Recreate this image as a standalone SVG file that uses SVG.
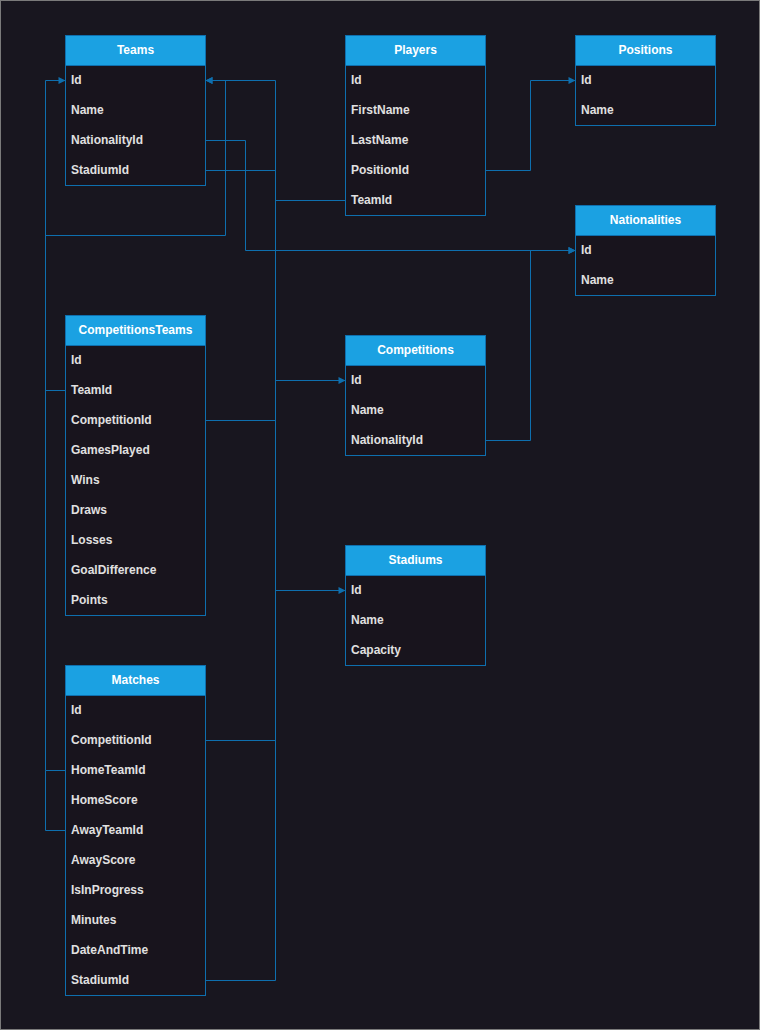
<svg xmlns="http://www.w3.org/2000/svg" width="760" height="1030" viewBox="0 0 760 1030">
<defs>
<style>
.hdr{fill:#1ba1e2;stroke:#0e6fae;stroke-width:1}
.body{fill:#18141d;stroke:#0e6fae;stroke-width:1}
.ht{font-family:"Liberation Sans",Arial,sans-serif;font-size:12px;font-weight:bold;fill:#ffffff;text-anchor:middle}
.ft{font-family:"Liberation Sans",Arial,sans-serif;font-size:12px;font-weight:bold;fill:#e0e0e0}
.edge{fill:none;stroke:#0e6fae;stroke-width:1}
</style>
<marker id="arr" viewBox="0 0 10 10" refX="10" refY="5" markerWidth="8" markerHeight="7" markerUnits="userSpaceOnUse" orient="auto">
<path d="M0,0 L10,5 L0,10 Z" fill="#0e6fae"/>
</marker>
</defs>
<rect x="0.5" y="0.5" width="759" height="1029" fill="#18161f" stroke="#7a7a7a"/>

<g id="connectors">
<path class="edge" marker-end="url(#arr)" d="M345.5,200.5 H275.5 V80.5 H205.5"/>
<path class="edge" marker-end="url(#arr)" d="M65.5,390.5 H45.5 V80.5 H65.5"/>
<path class="edge" marker-end="url(#arr)" d="M65.5,770.5 H45.5 V235.5 H225.5 V80.5 H205.5"/>
<path class="edge" d="M65.5,830.5 H45.5 V770.5"/>
<path class="edge" marker-end="url(#arr)" d="M205.5,140.5 H245.5 V250.5 H575.5"/>
<path class="edge" marker-end="url(#arr)" d="M205.5,170.5 H275.5 V590.5 H345.5"/>
<path class="edge" marker-end="url(#arr)" d="M485.5,440.5 H530.5 V250.5 H575.5"/>
<path class="edge" marker-end="url(#arr)" d="M485.5,170.5 H530.5 V80.5 H575.5"/>
<path class="edge" marker-end="url(#arr)" d="M205.5,420.5 H275.5 V380.5 H345.5"/>
<path class="edge" d="M205.5,740.5 H275.5 V380.5"/>
<path class="edge" d="M205.5,980.5 H275.5 V590.5"/>
</g>

<g id="Teams">
<rect class="body" x="65.5" y="35.5" width="140" height="150"/>
<rect class="hdr" x="65.5" y="35.5" width="140" height="30"/>
<text class="ht" x="135.5" y="53.5">Teams</text>
<text class="ft" x="71" y="83.5">Id</text>
<text class="ft" x="71" y="113.5">Name</text>
<text class="ft" x="71" y="143.5">NationalityId</text>
<text class="ft" x="71" y="173.5">StadiumId</text>
</g>

<g id="Players">
<rect class="body" x="345.5" y="35.5" width="140" height="180"/>
<rect class="hdr" x="345.5" y="35.5" width="140" height="30"/>
<text class="ht" x="415.5" y="53.5">Players</text>
<text class="ft" x="351" y="83.5">Id</text>
<text class="ft" x="351" y="113.5">FirstName</text>
<text class="ft" x="351" y="143.5">LastName</text>
<text class="ft" x="351" y="173.5">PositionId</text>
<text class="ft" x="351" y="203.5">TeamId</text>
</g>

<g id="Positions">
<rect class="body" x="575.5" y="35.5" width="140" height="90"/>
<rect class="hdr" x="575.5" y="35.5" width="140" height="30"/>
<text class="ht" x="645.5" y="53.5">Positions</text>
<text class="ft" x="581" y="83.5">Id</text>
<text class="ft" x="581" y="113.5">Name</text>
</g>

<g id="Nationalities">
<rect class="body" x="575.5" y="205.5" width="140" height="90"/>
<rect class="hdr" x="575.5" y="205.5" width="140" height="30"/>
<text class="ht" x="645.5" y="223.5">Nationalities</text>
<text class="ft" x="581" y="253.5">Id</text>
<text class="ft" x="581" y="283.5">Name</text>
</g>

<g id="CompetitionsTeams">
<rect class="body" x="65.5" y="315.5" width="140" height="300"/>
<rect class="hdr" x="65.5" y="315.5" width="140" height="30"/>
<text class="ht" x="135.5" y="333.5">CompetitionsTeams</text>
<text class="ft" x="71" y="363.5">Id</text>
<text class="ft" x="71" y="393.5">TeamId</text>
<text class="ft" x="71" y="423.5">CompetitionId</text>
<text class="ft" x="71" y="453.5">GamesPlayed</text>
<text class="ft" x="71" y="483.5">Wins</text>
<text class="ft" x="71" y="513.5">Draws</text>
<text class="ft" x="71" y="543.5">Losses</text>
<text class="ft" x="71" y="573.5">GoalDifference</text>
<text class="ft" x="71" y="603.5">Points</text>
</g>

<g id="Competitions">
<rect class="body" x="345.5" y="335.5" width="140" height="120"/>
<rect class="hdr" x="345.5" y="335.5" width="140" height="30"/>
<text class="ht" x="415.5" y="353.5">Competitions</text>
<text class="ft" x="351" y="383.5">Id</text>
<text class="ft" x="351" y="413.5">Name</text>
<text class="ft" x="351" y="443.5">NationalityId</text>
</g>

<g id="Stadiums">
<rect class="body" x="345.5" y="545.5" width="140" height="120"/>
<rect class="hdr" x="345.5" y="545.5" width="140" height="30"/>
<text class="ht" x="415.5" y="563.5">Stadiums</text>
<text class="ft" x="351" y="593.5">Id</text>
<text class="ft" x="351" y="623.5">Name</text>
<text class="ft" x="351" y="653.5">Capacity</text>
</g>

<g id="Matches">
<rect class="body" x="65.5" y="665.5" width="140" height="330"/>
<rect class="hdr" x="65.5" y="665.5" width="140" height="30"/>
<text class="ht" x="135.5" y="683.5">Matches</text>
<text class="ft" x="71" y="713.5">Id</text>
<text class="ft" x="71" y="743.5">CompetitionId</text>
<text class="ft" x="71" y="773.5">HomeTeamId</text>
<text class="ft" x="71" y="803.5">HomeScore</text>
<text class="ft" x="71" y="833.5">AwayTeamId</text>
<text class="ft" x="71" y="863.5">AwayScore</text>
<text class="ft" x="71" y="893.5">IsInProgress</text>
<text class="ft" x="71" y="923.5">Minutes</text>
<text class="ft" x="71" y="953.5">DateAndTime</text>
<text class="ft" x="71" y="983.5">StadiumId</text>
</g>
</svg>
